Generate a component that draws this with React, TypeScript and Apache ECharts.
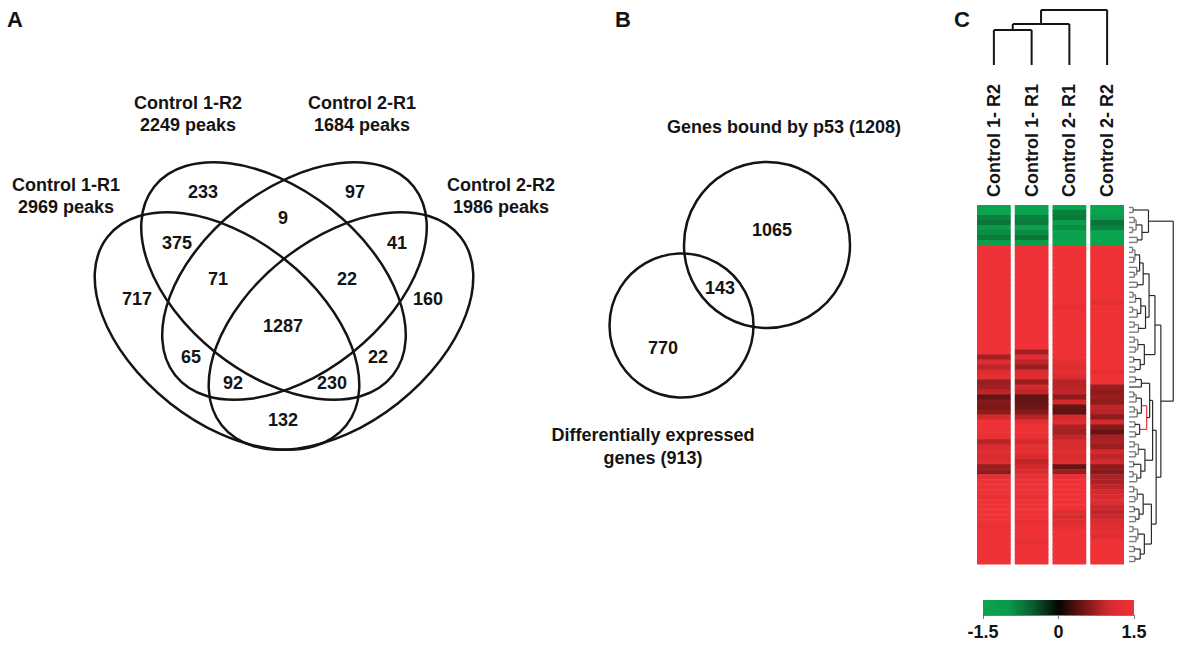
import React, { useEffect, useRef } from 'react';
import * as echarts from 'echarts';

// ---------- Panel A : four-set Venn diagram of p53 peaks ----------
const vennSetNames = ['Control 1-R1', 'Control 1-R2', 'Control 2-R1', 'Control 2-R2'];
const vennSetPeaks = [2969, 2249, 1684, 1986];
const vennRegions = ['A', 'B', 'C', 'D', 'AB', 'BC', 'CD', 'AD', 'ABC', 'BCD', 'AC', 'BD', 'ACD', 'ABD', 'ABCD'];
const vennCounts = [717, 233, 97, 160, 375, 9, 41, 132, 71, 22, 65, 22, 92, 230, 1287];

// ---------- Panel B : two-set Venn ----------
const twoSetNames = ['Genes bound by p53', 'Differentially expressed genes'];
const twoSetTotals = [1208, 913];
const twoRegions = ['p53only', 'both', 'deOnly'];
const twoCounts = [1065, 143, 770];

// ---------- Panel C : heatmap ----------
const sampleNames = ['Control 1- R2', 'Control 1- R1', 'Control 2- R1', 'Control 2- R2'];
const scaleTicks = [-1.5, 0, 1.5];

const sample1 = [
  -1.5, -1.5, -0.8, -0.7, -1.0, -0.9, -0.75, -1.2,
  1.5, 1.5, 1.5, 1.5, 1.5, 1.5, 1.5, 1.5, 1.5, 1.5, 1.5, 1.5, 1.5, 1.5, 1.5, 1.5, 1.5, 1.5, 1.5, 1.5, 1.5, 1.5,
  0.75, 1.2, 0.9, 1.2, 1.3, 0.7, 0.75, 0.9, 0.45, 0.6, 0.55, 0.65, 1.0, 1.5, 1.5, 1.5, 1.4, 0.85, 1.1, 1.2, 1.1, 1.2, 0.7, 0.65, 1.3, 1.5, 1.5,
  1.5, 1.35, 1.5, 1.5, 1.5, 1.5, 1.5, 1.4, 1.5, 1.5, 1.5, 1.5, 1.5, 1.5, 1.5,
];
const sample2 = [
  -1.5, -1.4, -0.8, -0.75, -1.3, -0.9, -0.7, -1.1,
  1.5, 1.5, 1.5, 1.5, 1.5, 1.5, 1.5, 1.5, 1.5, 1.5, 1.5, 1.5, 1.5, 1.5, 1.5, 1.5, 1.5, 1.5, 1.5, 1.5, 1.5,
  0.75, 1.2, 0.9, 0.7, 1.1, 1.2, 0.7, 1.0, 0.9, 0.45, 0.45, 0.5, 0.6, 0.85, 1.3, 1.5, 1.5, 1.4, 1.0, 1.3, 1.3, 1.1, 0.9, 1.0, 1.1, 1.3, 1.5, 1.5,
  1.5, 1.3, 1.5, 1.5, 1.5, 1.5, 1.35, 1.5, 1.5, 1.5, 1.3, 1.5, 1.5, 1.5, 1.5,
];
const sample3 = [
  -1.5, -0.8, -0.75, -1.2, -0.9, -1.4, -1.3, -1.5,
  1.5, 1.5, 1.5, 1.5, 1.5, 1.5, 1.5, 1.5, 1.5, 1.5, 1.5, 1.5, 1.35, 1.5, 1.5, 1.5, 1.5, 1.5, 1.5, 1.5, 1.5, 1.5, 1.5,
  1.3, 1.2, 1.3, 1.1, 0.85, 0.85, 0.9, 0.65, 1.0, 0.45, 0.4, 1.0, 1.2, 0.8, 0.75, 0.9, 1.1, 1.1, 1.2, 1.1, 1.2, 0.45, 0.7, 1.4, 1.5, 1.5,
  1.5, 1.5, 1.5, 1.5, 1.2, 1.1, 1.2, 1.3, 1.5, 1.5, 1.5, 1.5, 1.5, 1.5, 1.5,
];
const sample4 = [
  -1.5, -1.5, -1.1, -0.7, -0.8, -1.5, -1.5, -1.5,
  1.5, 1.5, 1.5, 1.5, 1.5, 1.5, 1.5, 1.5, 1.5, 1.5, 1.5, 1.3, 1.5, 1.5, 1.5, 1.5, 1.5, 1.5, 1.5, 1.5, 1.5, 1.5, 1.5, 1.5, 1.5, 1.3, 1.5, 1.5,
  0.7, 0.65, 0.7, 0.65, 0.9, 0.85, 0.65, 1.0, 0.6, 0.45, 0.75, 0.8, 0.7, 1.0, 0.9, 1.0, 0.65, 0.6, 0.8, 0.8, 0.9,
  1.0, 1.1, 1.2, 0.95, 0.9, 0.95, 1.1, 1.2, 1.3, 1.2, 1.5, 1.5, 1.5, 1.5, 1.5,
];

// hierarchical clustering trees: [height, left, right]; plain numbers are leaves (row / column index)
type Tree = number | [number, Tree, Tree];
const sampleTree: Tree = [55, [41, [35, 0, 1], 2], 3];
const greenCluster: Tree = [33, [7, 0, 1], [22, [12, [9, 2, 3], [6, 4, 5]], [14, 6, 7]]];
const clusterA: Tree = [24, [18, [10, [6, 8, 9], [8, 10, 11]], [13, 12, [9, 13, 14]]], [14, 15, 16]];
const clusterB: Tree = [28, [20, [11, [7, 17, 18], 19], [14, [6, 20, 21], 22]], [16, [9, 23, 24], 25]];
const clusterC: Tree = [26, [15, [9, 26, 27], [11, 28, 29]], [19, [8, 30, 31], [10, 32, 33]]];
const clusterD: Tree = [21, [11, 34, 35], 36];
const clusterE: Tree = [30, [21, [12, [8, 37, 38], 39], [14, [9, 40, 41], 42]], [18, [10, 43, 44], [11, 45, 46]]];
const clusterF: Tree = [27, [16, [9, 47, 48], [11, 49, 50]], [20, [8, 51, 52], [13, [7, 53, 54], 55]]];
const clusterG: Tree = [24, [14, [8, 56, 57], [10, 58, 59]], [17, [9, 60, 61], [11, 62, 63]]];
const clusterH: Tree = [26, [15, [7, 64, 65], [12, 66, 67]], [19, [9, 68, 69], [10, 70, 71]]];
const geneTree: Tree = [
  75,
  greenCluster,
  [54, [44, [34, clusterA, clusterB], clusterC], [46, [40, [35, clusterD, clusterE], clusterF], [38, clusterG, clusterH]]],
];
const highlightedNodeHeight = 30;

// ---------- layout / style (not data) ----------
const FONT = '"Liberation Sans", Arial, Helvetica, sans-serif';
const INK = '#141414';
const scaleColors = ['#0aa44f', '#0a9a4a', '#0b5c2e', '#050505', '#701616', '#d42a2e', '#ef3237'];
const regionPos: Record<string, [number, number]> = {
  A: [137, 299], B: [203, 192], C: [355, 192], D: [428, 299],
  AB: [177, 243], BC: [283, 218], CD: [397, 243], AD: [283, 420],
  ABC: [218, 279], BCD: [347, 279], AC: [191, 357], BD: [378, 357],
  ACD: [233, 383], ABD: [332, 383], ABCD: [283, 326],
};
const setLabelPos: [number, number][] = [[66, 185], [188, 103], [362, 103], [501, 185]];
const TILT = (38.3 * Math.PI) / 180;
const ellipseGeom = [
  { x: 227, y: 331, rot: -TILT },
  { x: 273.5, y: 281, rot: -TILT },
  { x: 294.5, y: 281, rot: TILT },
  { x: 341, y: 331, rot: TILT },
];
const ELL_RX = 152;
const ELL_RY = 92;
const circleGeom = [
  { x: 767, y: 245, r: 83 },
  { x: 681.5, y: 325.5, r: 72 },
];
const twoRegionPos: Record<string, [number, number]> = { p53only: [772, 230], both: [720, 288], deOnly: [663, 348] };

function layoutTree(t: Tree, segs: number[][]): { p: number; h: number } {
  if (typeof t === 'number') return { p: t, h: 0 };
  const [h, L, R] = t;
  const l = layoutTree(L, segs);
  const r = layoutTree(R, segs);
  const tone = h === highlightedNodeHeight ? 2 : h <= 16 ? 0 : 1;
  segs.push([l.p, l.h, l.p, h, tone]);
  segs.push([r.p, r.h, r.p, h, tone]);
  segs.push([l.p, h, r.p, h, tone]);
  return { p: (l.p + r.p) / 2, h };
}

export default function App() {
  const ref = useRef<HTMLDivElement>(null);
  useEffect(() => {
    if (!ref.current) return;
    const chart = echarts.init(ref.current, undefined, { renderer: 'svg' });

    const samples = [sample1, sample2, sample3, sample4];
    const cells: number[][] = [];
    samples.forEach((col, c) => col.forEach((v, r) => cells.push([c, r, v])));

    const geneSegs: number[][] = [];
    layoutTree(geneTree, geneSegs);
    const sampleSegs: number[][] = [];
    layoutTree(sampleTree, sampleSegs);

    const toneColors = ['#7d7d7d', '#2a2a2a', '#e8303a'];
    const toneWidths = [1.4, 1.2, 1.2];

    const txt = (text: string, x: number, y: number, size = 18) => ({
      type: 'text',
      x,
      y,
      style: {
        text,
        font: `bold ${size}px ${FONT}`,
        fill: INK,
        textAlign: 'center',
        textVerticalAlign: 'middle',
      },
    });

    const graphics: any[] = [];
    graphics.push(txt('A', 15, 19, 22));
    graphics.push(txt('B', 623, 19, 22));
    graphics.push(txt('C', 962, 19, 22));
    ellipseGeom.forEach((e) =>
      graphics.push({
        type: 'ellipse',
        x: e.x,
        y: e.y,
        rotation: e.rot,
        shape: { cx: 0, cy: 0, rx: ELL_RX, ry: ELL_RY },
        style: { fill: 'transparent', stroke: INK, lineWidth: 2.5 },
      })
    );
    vennRegions.forEach((reg, i) => {
      const p = regionPos[reg];
      graphics.push(txt(String(vennCounts[i]), p[0], p[1]));
    });
    vennSetNames.forEach((n, i) => {
      const p = setLabelPos[i];
      graphics.push(txt(n, p[0], p[1]));
      graphics.push(txt(`${vennSetPeaks[i]} peaks`, p[0], p[1] + 22));
    });
    circleGeom.forEach((c) =>
      graphics.push({
        type: 'circle',
        shape: { cx: c.x, cy: c.y, r: c.r },
        style: { fill: 'transparent', stroke: INK, lineWidth: 2.5 },
      })
    );
    twoRegions.forEach((reg, i) => {
      const p = twoRegionPos[reg];
      graphics.push(txt(String(twoCounts[i]), p[0], p[1]));
    });
    graphics.push(txt(`${twoSetNames[0]} (${twoSetTotals[0]})`, 784, 127));
    const deWords = twoSetNames[1].split(' ');
    graphics.push(txt(deWords.slice(0, -1).join(' '), 653, 435));
    graphics.push(txt(`${deWords[deWords.length - 1]} (${twoSetTotals[1]})`, 653, 458));

    const option: any = {
      animation: false,
      backgroundColor: '#ffffff',
      visualMap: {
        type: 'continuous',
        show: false,
        min: -1.5,
        max: 1.5,
        dimension: 2,
        seriesIndex: 0,
        inRange: { color: scaleColors },
      },
      grid: [
        { left: 975, top: 205, width: 151, height: 359 },
        { left: 1129, top: 205, width: 100, height: 359 },
        { left: 975, top: 0, width: 151, height: 65 },
        { left: 983, top: 600, width: 151, height: 15 },
      ],
      xAxis: [
        {
          gridIndex: 0,
          type: 'category',
          data: sampleNames,
          position: 'top',
          axisLine: { show: false },
          axisTick: { show: false },
          splitLine: { show: false },
          axisLabel: { rotate: 90, fontSize: 18, fontWeight: 'bold', fontFamily: FONT, color: INK, margin: 8 },
        },
        { gridIndex: 1, type: 'value', min: 0, max: 100, show: false },
        { gridIndex: 2, type: 'value', min: -0.5, max: 3.5, show: false },
        {
          gridIndex: 3,
          type: 'value',
          min: scaleTicks[0],
          max: scaleTicks[scaleTicks.length - 1],
          interval: 1.5,
          splitLine: { show: false },
          axisLine: { lineStyle: { color: '#7a7a7a', width: 1 } },
          axisTick: { length: 4, lineStyle: { color: '#7a7a7a' } },
          axisLabel: { fontSize: 18, fontWeight: 'bold', fontFamily: FONT, color: INK, margin: 8 },
        },
      ],
      yAxis: [
        { gridIndex: 0, type: 'value', min: -0.5, max: 71.5, inverse: true, show: false },
        { gridIndex: 1, type: 'value', min: -0.5, max: 71.5, inverse: true, show: false },
        { gridIndex: 2, type: 'value', min: 0, max: 65, show: false },
        { gridIndex: 3, type: 'value', min: 0, max: 1, show: false },
      ],
      series: [
        {
          type: 'custom',
          xAxisIndex: 0,
          yAxisIndex: 0,
          data: cells,
          encode: { x: 0, y: 1 },
          renderItem: (params: any, api: any) => {
            const c = api.value(0);
            const r = api.value(1);
            const p0 = api.coord([c, r - 0.5]);
            const p1 = api.coord([c, r + 0.5]);
            const w = api.size([1, 0])[0];
            return {
              type: 'rect',
              shape: { x: p0[0] - w / 2 + 2, y: p0[1], width: w - 4, height: p1[1] - p0[1] + 0.6 },
              style: { fill: api.visual('color') },
            };
          },
        },
        {
          type: 'custom',
          xAxisIndex: 1,
          yAxisIndex: 1,
          data: geneSegs,
          encode: { x: [1, 3], y: [0, 2] },
          renderItem: (params: any, api: any) => {
            const a = api.coord([api.value(1), api.value(0)]);
            const b = api.coord([api.value(3), api.value(2)]);
            const tone = api.value(4);
            return {
              type: 'line',
              shape: { x1: a[0], y1: a[1], x2: b[0], y2: b[1] },
              style: { stroke: toneColors[tone], lineWidth: toneWidths[tone] },
            };
          },
        },
        {
          type: 'custom',
          xAxisIndex: 2,
          yAxisIndex: 2,
          data: sampleSegs,
          encode: { x: [0, 2], y: [1, 3] },
          renderItem: (params: any, api: any) => {
            const a = api.coord([api.value(0), api.value(1)]);
            const b = api.coord([api.value(2), api.value(3)]);
            return {
              type: 'line',
              shape: { x1: a[0], y1: a[1], x2: b[0], y2: b[1] },
              style: { stroke: INK, lineWidth: 2 },
            };
          },
        },
        {
          type: 'custom',
          xAxisIndex: 3,
          yAxisIndex: 3,
          data: [[scaleTicks[0], scaleTicks[scaleTicks.length - 1]]],
          encode: { x: [0, 1] },
          renderItem: (params: any, api: any) => {
            const a = api.coord([api.value(0), 1]);
            const b = api.coord([api.value(1), 0]);
            return {
              type: 'rect',
              shape: { x: a[0], y: a[1], width: b[0] - a[0], height: b[1] - a[1] },
              style: {
                fill: new echarts.graphic.LinearGradient(
                  0, 0, 1, 0,
                  scaleColors.map((c, i) => ({ offset: i / (scaleColors.length - 1), color: c }))
                ),
              },
            };
          },
        },
      ],
      graphic: graphics,
    };
    chart.setOption(option);
    return () => chart.dispose();
  }, []);

  return (
    <div
      ref={ref}
      style={{ position: 'fixed', left: 0, top: 0, width: 1188, height: 648, background: '#fff' }}
    />
  );
}
